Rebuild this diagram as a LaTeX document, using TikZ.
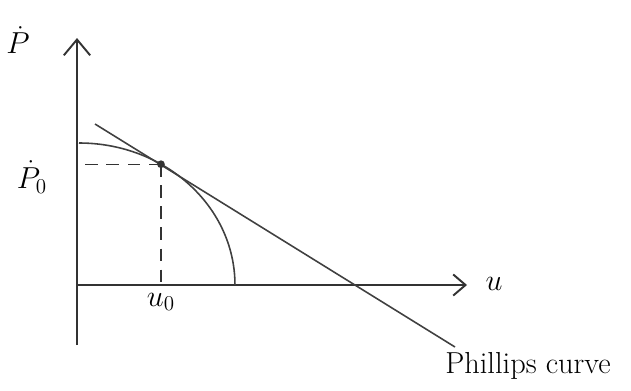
\documentclass[tikz,border=0pt]{standalone}
\usepackage{amsmath,amssymb}
\usetikzlibrary{arrows.meta, positioning, calc}

\begin{document}
\begin{tikzpicture}[x=0.02cm, y=0.02cm, font=\LARGE, every node/.style={align=center},
    axis/.style={line width=1.1pt, black!80},
    curve/.style={line width=0.9pt, black!75},
    guide/.style={line width=0.8pt, black!80, dash pattern=on 7pt off 5pt}]
    \useasboundingbox ({0},{0}) rectangle ({631},{390});

    \coordinate (O) at ({77},{105});
    \coordinate (ytop) at ({77},{352});
    \coordinate (ybot) at ({77},{45});
    \coordinate (xend) at ({467},{105});
    \coordinate (C1) at ({79},{247});
    \coordinate (E) at ($({79},{105})+(58.3:3.12cm and 2.84cm)$);
    \coordinate (T1) at ({95},{266});
    \coordinate (T2) at ({455},{43});

    \draw[axis, -{Straight Barb[length=9pt, width=15pt]}] (ybot) -- (ytop);
    \draw[axis, -{Straight Barb[length=7pt, width=12pt]}] (O) -- (xend);

    \draw[curve] (C1) arc[start angle=90, end angle=0, x radius=3.12cm, y radius=2.84cm];
    \draw[curve] (T1) -- (T2);

    \draw[guide] (E) -- (E -| O);
    \draw[guide] (E) -- (E |- O);
    \fill[black!80] (E) circle[radius=2.2pt];

    \node (pdot) at ({18},{350}) {$\dot{P}$};
    \node (pdot0) at ({32},{213}) {$\dot{P}_0$};
    \node (u0) at ({161},{88}) {$u_0$};
    \node (u) at ({494},{106}) {$u$};
    \node (phillips) at ({528},{24}) {Phillips curve};
\end{tikzpicture}
\end{document}
